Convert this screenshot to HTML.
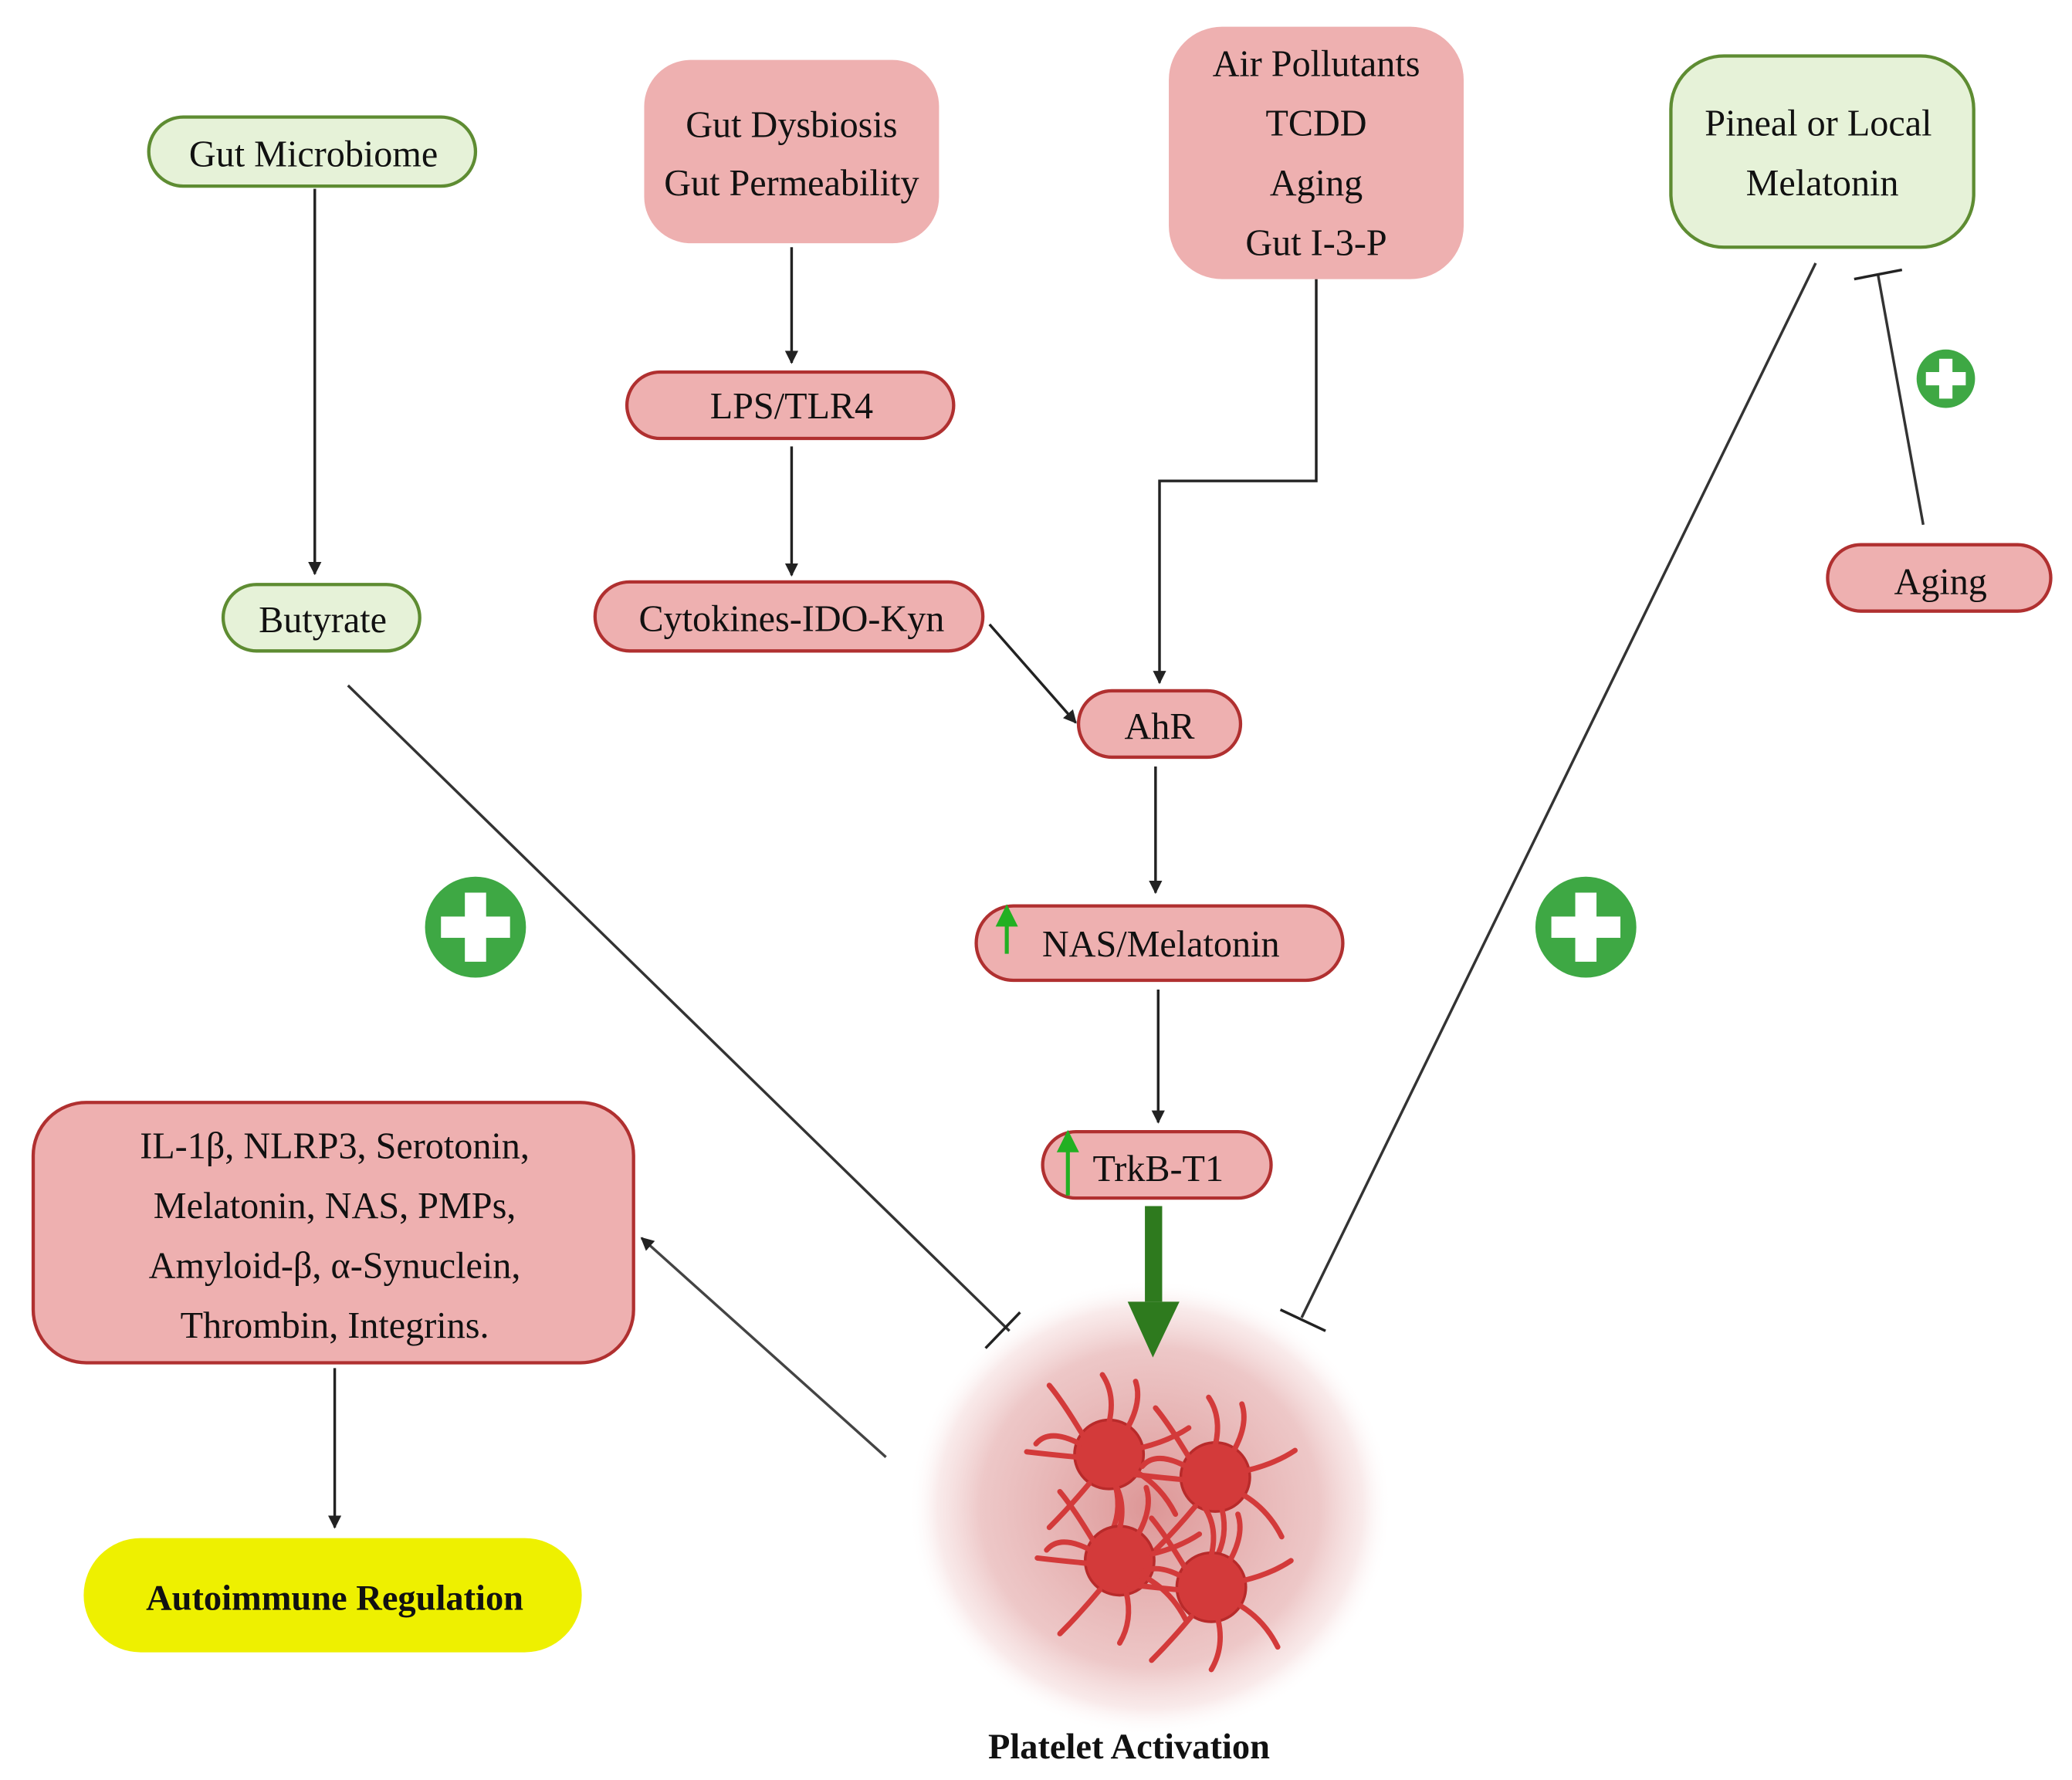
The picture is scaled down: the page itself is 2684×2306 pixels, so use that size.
<!DOCTYPE html>
<html><head><meta charset="utf-8"><style>
html,body{margin:0;padding:0;background:#fff;width:2684px;height:2306px;overflow:hidden}
svg{display:block}
text{font-family:"Liberation Serif",serif;fill:#111}
</style></head><body>
<svg width="2684" height="2306" viewBox="0 0 1560 1340" xmlns="http://www.w3.org/2000/svg">
<defs>
<radialGradient id="glow" cx="50%" cy="50%" r="50%">
<stop offset="0" stop-color="#d98a8a" stop-opacity="0.9"/>
<stop offset="0.7" stop-color="#e6b0b0" stop-opacity="0.7"/>
<stop offset="0.88" stop-color="#f3d6d6" stop-opacity="0.5"/>
<stop offset="1" stop-color="#ffffff" stop-opacity="0"/>
</radialGradient>
<marker id="ah" markerWidth="10" markerHeight="10" refX="9" refY="5" orient="auto" markerUnits="userSpaceOnUse"><path d="M0,0 L10,5 L0,10 z" fill="#222"/></marker>
<g id="plt">
<circle r="26" fill="#d33a3a" stroke="#b82a2a" stroke-width="2"/>
<g stroke="#d33a3a" stroke-width="4" fill="none" stroke-linecap="round">
<path d="M-20,-15 Q-35,-40 -45,-52"/><path d="M0,-24 Q5,-45 -5,-60"/><path d="M14,-20 Q25,-40 20,-55"/>
<path d="M24,-5 Q45,-10 60,-20"/><path d="M22,14 Q40,25 50,45"/><path d="M5,24 Q10,45 0,62"/>
<path d="M-15,22 Q-30,40 -45,55"/><path d="M-24,2 Q-45,0 -62,-2"/><path d="M-22,-8 Q-45,-20 -55,-8"/>
</g></g>
</defs>
<rect width="1560" height="1340" fill="#fff"/>

<ellipse cx="866" cy="1135" rx="182" ry="172" fill="url(#glow)"/>
<use href="#plt" x="835" y="1095"/>
<use href="#plt" x="915" y="1112"/>
<use href="#plt" x="843" y="1175"/>
<use href="#plt" x="912" y="1195"/>

<g stroke="#222" stroke-width="2" fill="none">
<line x1="237" y1="142" x2="237" y2="432" marker-end="url(#ah)"/>
<line x1="596" y1="186" x2="596" y2="273" marker-end="url(#ah)"/>
<line x1="596" y1="336" x2="596" y2="433" marker-end="url(#ah)"/>
<polyline points="991,210 991,362 873,362 873,514" marker-end="url(#ah)"/>
<line x1="745" y1="470" x2="810" y2="544" marker-end="url(#ah)"/>
<line x1="870" y1="577" x2="870" y2="672" marker-end="url(#ah)"/>
<line x1="872" y1="745" x2="872" y2="845" marker-end="url(#ah)"/>
<line x1="252" y1="1030" x2="252" y2="1150" marker-end="url(#ah)"/>
<line x1="667" y1="1097" x2="483" y2="932" marker-end="url(#ah)" stroke="#444"/>
<line x1="262" y1="516" x2="760" y2="1002" stroke="#333"/>
<line x1="742" y1="1015" x2="768" y2="988"/>
<line x1="1367" y1="198" x2="980" y2="992" stroke="#333"/>
<line x1="964" y1="986" x2="998" y2="1002"/>
<line x1="1448" y1="395" x2="1414" y2="207" stroke="#333"/>
<line x1="1396" y1="210" x2="1432" y2="203"/>
</g>
<rect x="862" y="908" width="13" height="72" fill="#2e7a1e"/>
<path d="M849,980 L888,980 L868,1022 z" fill="#2e7a1e"/>

<g fill="#3ea844">
<circle cx="358" cy="698" r="38"/><circle cx="1194" cy="698" r="38"/><circle cx="1465" cy="285" r="22"/>
</g>
<g fill="#fff">
<rect x="350" y="672" width="16" height="52"/><rect x="332" y="690" width="52" height="16"/>
<rect x="1186" y="672" width="16" height="52"/><rect x="1168" y="690" width="52" height="16"/>
<rect x="1460" y="270" width="10" height="30"/><rect x="1450" y="280" width="30" height="10"/>
</g>

<g font-size="28" text-anchor="middle">
<rect x="112" y="88" width="246" height="52" rx="26" fill="#e6f2d8" stroke="#5e8c32" stroke-width="2.5"/>
<text x="236" y="125">Gut Microbiome</text>
<rect x="485" y="45" width="222" height="138" rx="35" fill="#eeb0b0"/>
<text x="596" y="103">Gut Dysbiosis</text><text x="596" y="147">Gut Permeability</text>
<rect x="880" y="20" width="222" height="190" rx="40" fill="#eeb0b0"/>
<text x="991" y="57">Air Pollutants</text><text x="991" y="102">TCDD</text><text x="991" y="147">Aging</text><text x="991" y="192">Gut I-3-P</text>
<rect x="1258" y="42" width="228" height="144" rx="40" fill="#e6f2d8" stroke="#5e8c32" stroke-width="2.5"/>
<text x="1369" y="102">Pineal or Local</text><text x="1372" y="147">Melatonin</text>
<rect x="472" y="280" width="246" height="50" rx="25" fill="#eeb0b0" stroke="#b03030" stroke-width="2.5"/>
<text x="596" y="315">LPS/TLR4</text>
<rect x="448" y="438" width="292" height="52" rx="26" fill="#eeb0b0" stroke="#b03030" stroke-width="2.5"/>
<text x="596" y="475">Cytokines-IDO-Kyn</text>
<rect x="168" y="440" width="148" height="50" rx="25" fill="#e6f2d8" stroke="#5e8c32" stroke-width="2.5"/>
<text x="243" y="476">Butyrate</text>
<rect x="812" y="520" width="122" height="50" rx="25" fill="#eeb0b0" stroke="#b03030" stroke-width="2.5"/>
<text x="873" y="556">AhR</text>
<rect x="1376" y="410" width="168" height="50" rx="25" fill="#eeb0b0" stroke="#b03030" stroke-width="2.5"/>
<text x="1461" y="447">Aging</text>
<rect x="735" y="682" width="276" height="56" rx="28" fill="#eeb0b0" stroke="#b03030" stroke-width="2.5"/>
<text x="874" y="720">NAS/Melatonin</text>
<rect x="785" y="852" width="172" height="50" rx="25" fill="#eeb0b0" stroke="#b03030" stroke-width="2.5"/>
<text x="872" y="889">TrkB-T1</text>
<rect x="25" y="830" width="452" height="196" rx="40" fill="#eeb0b0" stroke="#b03030" stroke-width="2.5"/>
<text x="252" y="872">IL-1β, NLRP3, Serotonin,</text>
<text x="252" y="917">Melatonin, NAS, PMPs,</text>
<text x="252" y="962">Amyloid-β, α-Synuclein,</text>
<text x="252" y="1007">Thrombin, Integrins.</text>
<rect x="63" y="1158" width="375" height="86" rx="43" fill="#eef000"/>
<text x="252" y="1212" font-weight="bold" font-size="27">Autoimmune Regulation</text>
<text x="850" y="1324" font-weight="bold" font-size="27">Platelet Activation</text>
</g>
<g stroke="#22b022" stroke-width="3" fill="#22b022">
<line x1="758" y1="718" x2="758" y2="692"/><path d="M752,696 L758,684 L764,696 z"/>
<line x1="804" y1="900" x2="804" y2="862"/><path d="M798,866 L804,854 L810,866 z"/>
</g>
</svg>
</body></html>
